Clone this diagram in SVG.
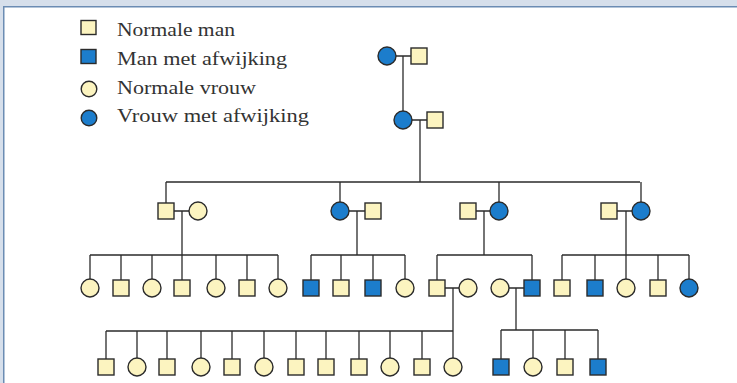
<svg xmlns="http://www.w3.org/2000/svg" width="737" height="383" viewBox="0 0 737 383">
<style>
.n{fill:#fcf4c0;stroke:#2b2b2b;stroke-width:1.4}
.a{fill:#1c7dcc;stroke:#2b2b2b;stroke-width:1.4}
.c{fill:none;stroke:#2b2b2b;stroke-width:1.3}
.t{font-family:"Liberation Serif","Times New Roman",serif;font-size:18px;fill:#333}
</style>
<defs>
<rect id="sq" x="-8" y="-8" width="16" height="16"/>
<circle id="ci" r="9"/>
</defs>
<rect x="0" y="0" width="737" height="383" fill="#ffffff"/>
<rect x="0" y="0" width="737" height="6" fill="#d6dfeb"/>
<rect x="0" y="0" width="3" height="383" fill="#d6dfeb"/>
<line x1="3" y1="6.75" x2="737" y2="6.75" stroke="#6b8cb3" stroke-width="1.5"/>
<line x1="3.75" y1="6" x2="3.75" y2="383" stroke="#6b8cb3" stroke-width="1.5"/>

<g id="legend">
<g id="leg-normale-man"><rect class="n" x="81" y="20.5" width="15" height="14"/><text class="t" x="117" y="36" textLength="118" lengthAdjust="spacingAndGlyphs">Normale man</text></g>
<g id="leg-man-afwijking"><rect class="a" x="81" y="49.5" width="15" height="14"/><text class="t" x="117" y="64.5" textLength="170" lengthAdjust="spacingAndGlyphs">Man met afwijking</text></g>
<g id="leg-normale-vrouw"><circle class="n" cx="89" cy="89" r="7.8"/><text class="t" x="117" y="93.5" textLength="139" lengthAdjust="spacingAndGlyphs">Normale vrouw</text></g>
<g id="leg-vrouw-afwijking"><circle class="a" cx="89" cy="118" r="7.8"/><text class="t" x="117" y="122" textLength="192" lengthAdjust="spacingAndGlyphs">Vrouw met afwijking</text></g>
</g>

<g id="connectors" class="c">
<path d="M396 56H411M403 56V111"/>
<path d="M412 120H427M420 120V182"/>
<path d="M166 182H640M166 182V203M340 182V202M499 182V202M641 182V202"/>
<path d="M174 211H189M182 211V255"/>
<path d="M349 211H365M357 211V255"/>
<path d="M476 211H490M484 211V255"/>
<path d="M617 211H632M626 211V255"/>
<path d="M90 255H278M90 255V279M121 255V280M152 255V279M182 255V280M216 255V279M247 255V280M278 255V279"/>
<path d="M311 255H405M311 255V280M341 255V280M373 255V280M405 255V279"/>
<path d="M437 255H532M437 255V280M532 255V280"/>
<path d="M562 255H689M562 255V280M595 255V280M626 255V279M658 255V280M689 255V279"/>
<path d="M445 288H459M453 288V358"/>
<path d="M509 288H524M516 288V330"/>
<path d="M106 331H453M106 331V359M137 331V358M167 331V359M201 331V358M232 331V359M264 331V358M296 331V359M326 331V359M359 331V359M390 331V358M422 331V359"/>
<path d="M501 330H598M501 330V359M533 330V358M565 330V359M598 330V359"/>
</g>

<g id="g1-mother"><use href="#ci" class="a" x="387" y="56"/></g>
<g id="g1-father"><use href="#sq" class="n" x="419" y="56"/></g>
<g id="g1b-mother"><use href="#ci" class="a" x="403" y="120"/></g>
<g id="g1b-father"><use href="#sq" class="n" x="435" y="120"/></g>

<g id="g2a-man"><use href="#sq" class="n" x="166" y="211"/></g>
<g id="g2a-wife"><use href="#ci" class="n" x="198" y="211"/></g>
<g id="g2b-woman"><use href="#ci" class="a" x="340" y="211"/></g>
<g id="g2b-husband"><use href="#sq" class="n" x="373" y="211"/></g>
<g id="g2c-husband"><use href="#sq" class="n" x="468" y="211"/></g>
<g id="g2c-woman"><use href="#ci" class="a" x="499" y="211"/></g>
<g id="g2d-husband"><use href="#sq" class="n" x="609" y="211"/></g>
<g id="g2d-woman"><use href="#ci" class="a" x="641" y="211"/></g>

<g id="g3-1"><use href="#ci" class="n" x="90" y="288"/></g>
<g id="g3-2"><use href="#sq" class="n" x="121" y="288"/></g>
<g id="g3-3"><use href="#ci" class="n" x="152" y="288"/></g>
<g id="g3-4"><use href="#sq" class="n" x="182" y="288"/></g>
<g id="g3-5"><use href="#ci" class="n" x="216" y="288"/></g>
<g id="g3-6"><use href="#sq" class="n" x="247" y="288"/></g>
<g id="g3-7"><use href="#ci" class="n" x="278" y="288"/></g>
<g id="g3-8"><use href="#sq" class="a" x="311" y="288"/></g>
<g id="g3-9"><use href="#sq" class="n" x="341" y="288"/></g>
<g id="g3-10"><use href="#sq" class="a" x="373" y="288"/></g>
<g id="g3-11"><use href="#ci" class="n" x="405" y="288"/></g>
<g id="g3-12"><use href="#sq" class="n" x="437" y="288"/></g>
<g id="g3-12-wife"><use href="#ci" class="n" x="468" y="288"/></g>
<g id="g3-13-wife"><use href="#ci" class="n" x="500" y="288"/></g>
<g id="g3-13"><use href="#sq" class="a" x="532" y="288"/></g>
<g id="g3-14"><use href="#sq" class="n" x="562" y="288"/></g>
<g id="g3-15"><use href="#sq" class="a" x="595" y="288"/></g>
<g id="g3-16"><use href="#ci" class="n" x="626" y="288"/></g>
<g id="g3-17"><use href="#sq" class="n" x="658" y="288"/></g>
<g id="g3-18"><use href="#ci" class="a" x="689" y="288"/></g>

<g id="g4-1"><use href="#sq" class="n" x="106" y="367"/></g>
<g id="g4-2"><use href="#ci" class="n" x="137" y="367"/></g>
<g id="g4-3"><use href="#sq" class="n" x="167" y="367"/></g>
<g id="g4-4"><use href="#ci" class="n" x="201" y="367"/></g>
<g id="g4-5"><use href="#sq" class="n" x="232" y="367"/></g>
<g id="g4-6"><use href="#ci" class="n" x="264" y="367"/></g>
<g id="g4-7"><use href="#sq" class="n" x="296" y="367"/></g>
<g id="g4-8"><use href="#sq" class="n" x="326" y="367"/></g>
<g id="g4-9"><use href="#sq" class="n" x="359" y="367"/></g>
<g id="g4-10"><use href="#ci" class="n" x="390" y="367"/></g>
<g id="g4-11"><use href="#sq" class="n" x="422" y="367"/></g>
<g id="g4-12"><use href="#ci" class="n" x="453" y="367"/></g>
<g id="g4-13"><use href="#sq" class="a" x="501" y="367"/></g>
<g id="g4-14"><use href="#ci" class="n" x="533" y="367"/></g>
<g id="g4-15"><use href="#sq" class="n" x="565" y="367"/></g>
<g id="g4-16"><use href="#sq" class="a" x="598" y="367"/></g>
</svg>
